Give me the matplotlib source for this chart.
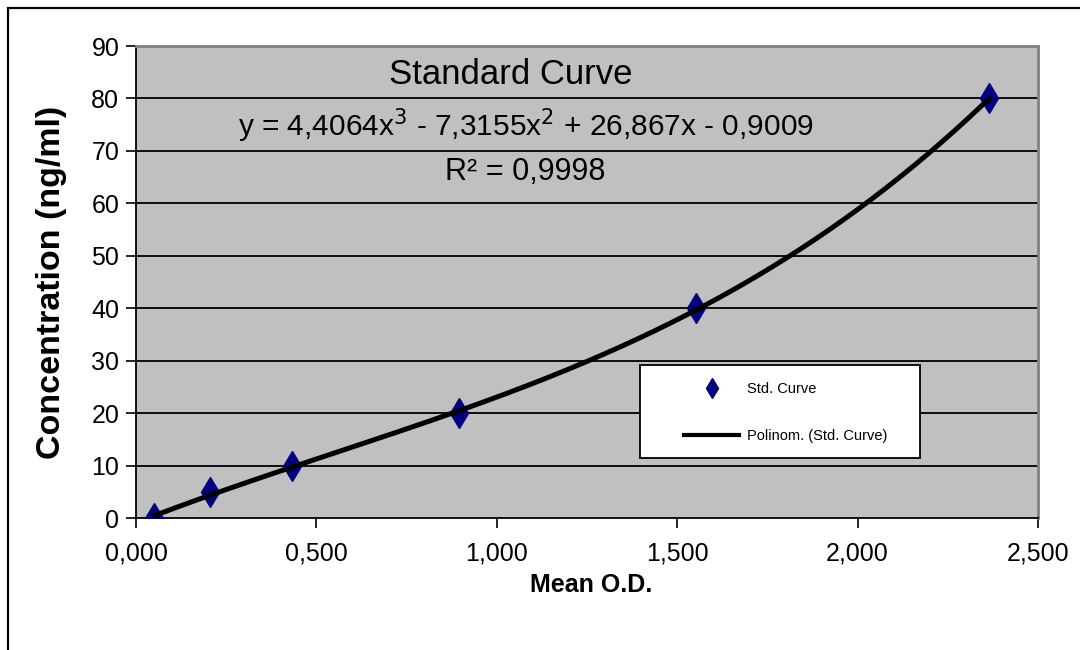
import matplotlib
matplotlib.use("Agg")
import matplotlib.pyplot as plt
import numpy as np
from matplotlib.patches import Rectangle
from matplotlib.lines import Line2D
from matplotlib.ticker import FuncFormatter

plt.rcParams['font.family'] = ['Liberation Sans Narrow', 'Liberation Sans', 'DejaVu Sans']

# Data
mean_od = [0.050, 0.205, 0.432, 0.896, 1.552, 2.364]
concentration = [0, 5, 10, 20, 40, 80]
poly_coeffs = [4.4064, -7.3155, 26.867, -0.9009]  # cubic trendline as shown
title_text = "Standard Curve"
equation_text = "y = 4,4064x$^3$ - 7,3155x$^2$ + 26,867x - 0,9009"
r2_text = "R² = 0,9998"
x_ticks = [0.0, 0.5, 1.0, 1.5, 2.0, 2.5]
y_ticks = list(range(0, 91, 10))
legend_labels = ["Std. Curve", "Polinom. (Std. Curve)"]

W, H = 1080, 650
fig = plt.figure(figsize=(10.8, 6.5), dpi=100)
fig.patch.set_facecolor('white')

# outer chart frame (cropped at right and bottom)
fig.patches.append(Rectangle((8/W, -0.2), 1.5, 1.2 - 8/H,
                             transform=fig.transFigure, fill=False,
                             edgecolor='black', linewidth=1.6, zorder=0))

L, R, T, B = 136, 1038, 46, 518
ax = fig.add_axes([L/W, 1 - B/H, (R-L)/W, (B-T)/H])
ax.set_facecolor('#C0C0C0')
ax.set_xlim(0, 2.5)
ax.set_ylim(0, 90)

ax.set_yticks(y_ticks)
ax.set_xticks(x_ticks)
ax.xaxis.set_major_formatter(FuncFormatter(lambda v, p: f"{v:.3f}".replace('.', ',')))
ax.yaxis.set_major_formatter(FuncFormatter(lambda v, p: f"{int(v)}"))
ax.tick_params(axis='both', direction='out', length=7, width=1.2, labelsize=18, colors='black')
ax.tick_params(axis='y', pad=5)
ax.tick_params(axis='x', pad=10)

for y in y_ticks[1:-1]:
    ax.axhline(y, color='black', linewidth=1.3, zorder=1)

for s in ['top', 'right']:
    ax.spines[s].set_color('#808080')
    ax.spines[s].set_linewidth(2)
for s in ['left', 'bottom']:
    ax.spines[s].set_color('black')
    ax.spines[s].set_linewidth(1.3)

xs = np.linspace(min(mean_od), max(mean_od), 300)
ys = np.polyval(poly_coeffs, xs)

ax.plot(mean_od, concentration, linestyle='none', marker='d', markersize=15,
        color='#000080', markeredgecolor='#000080', zorder=3)
ax.plot(xs, ys, color='black', linewidth=3.6, zorder=4)

ax.text(0.415, 0.975, title_text, transform=ax.transAxes, ha='center', va='top', fontsize=25)
ax.text(0.432, 0.872, equation_text, transform=ax.transAxes, ha='center', va='top', fontsize=21.5)
ax.text(0.432, 0.765, r2_text, transform=ax.transAxes, ha='center', va='top', fontsize=22)

ax.set_xlabel("Mean O.D.", fontsize=18, fontweight='bold')
ax.xaxis.set_label_coords(0.505, -0.117)
ax.set_ylabel("Concentration (ng/ml)", fontsize=24.5, fontweight='bold')
ax.yaxis.set_label_coords(-0.076, 0.5)

# legend: white box with frameless legend inside
lx0, lx1, ly0, ly1 = 640, 920, 365, 458
ax.add_patch(Rectangle(((lx0-L)/(R-L), (B-ly1)/(B-T)), (lx1-lx0)/(R-L), (ly1-ly0)/(B-T),
                       transform=ax.transAxes, facecolor='white', edgecolor='black',
                       linewidth=1.3, zorder=5))
handles = [Line2D([], [], linestyle='none', marker='d', markersize=10, color='#000080'),
           Line2D([], [], color='black', linewidth=3)]
leg = ax.legend(handles, legend_labels,
                loc='upper left', bbox_to_anchor=((684-L)/(R-L), (B-382)/(B-T)),
                frameon=False, fontsize=10.5, handlelength=3.8,
                labelspacing=2.25, borderpad=0.0, handletextpad=0.5, borderaxespad=0)
leg.set_zorder(6)

fig.savefig("out.png", dpi=100)
